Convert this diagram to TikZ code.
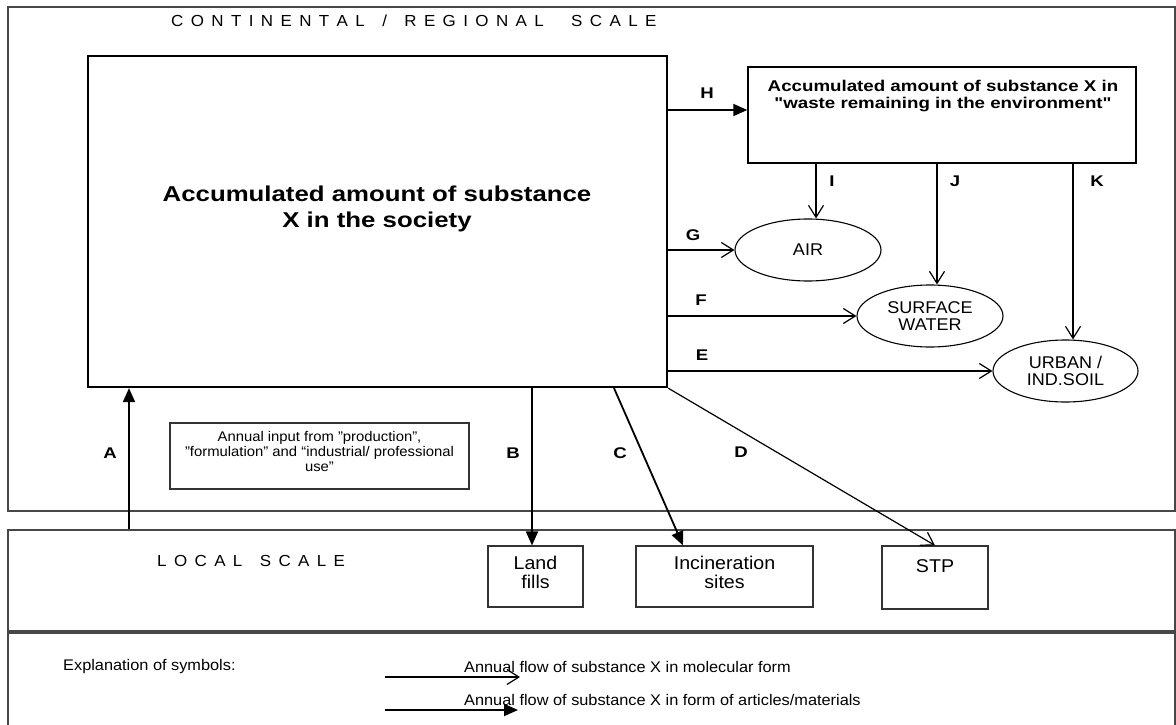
\documentclass[tikz,border=0pt]{standalone}
\usepackage{fontspec}
\setmainfont{Liberation Sans}[FakeStretch=1.06]
\newfontfamily\boldfam{Liberation Sans}[FakeStretch=1.2]
\usetikzlibrary{arrows.meta,shapes.geometric}

\newcommand\fsz[2]{\fontsize{#1}{#2}\selectfont}
% letter-spaced caps; '*' stands for a word gap
\newcommand\spaced[1]{\spacedloop#1\relax}
\def\spacedloop#1{\ifx#1\relax\else\ifx#1*\hspace{10pt}\else#1\hspace{7.4pt}\fi\expandafter\spacedloop\fi}

\begin{document}
\begin{tikzpicture}[x=1pt,y=-1pt,
  frame/.style={draw=black!72, line width=1.2pt, inner sep=0pt},
  mainbox/.style={draw, line width=2.2pt, inner sep=0pt},
  wastebox/.style={draw, line width=1.4pt, inner sep=0pt},
  sitebox/.style={draw=black!80, line width=1.1pt, inner sep=0pt},
  env/.style={ellipse, draw, line width=1.1pt, inner sep=0pt,
              minimum width=146pt, minimum height=62pt, align=center,
              font=\fsz{17}{17.7}},
  txt/.style={inner sep=0pt, align=center},
  lbl/.style={inner sep=0pt, font=\boldfam\bfseries\fsz{15.5}{17}},
  mol/.style={-{Straight Barb[length=12pt,width=15pt]}, line width=1.2pt},
  mat/.style={-{Triangle[length=14pt,width=12pt]}, line width=1.8pt}]
\useasboundingbox (0,0) rectangle (1176,725);
\fill[white] (0,0) rectangle (1176,725);

% scale frames
\node[frame, minimum width=1167pt, minimum height=504pt] (cont) at (591.5,259) {};
\node[frame, minimum width=1167pt, minimum height=101pt] (local) at (591.5,580.5) {};
\node[frame, minimum width=1167pt, minimum height=95pt] (expl) at (591.5,680.5) {};

\node[inner sep=0pt, anchor=west, font=\fsz{16}{18}] (conttitle) at (171,21)
  {\spaced{CONTINENTAL*/*REGIONAL**SCALE}};
\node[inner sep=0pt, anchor=west, font=\fsz{16}{18}] (localtitle) at (157,561)
  {\spaced{LOCAL*SCALE}};

% stocks
\node[mainbox, minimum width=579pt, minimum height=331pt] (soc) at (377.5,221.5) {};
\node[txt, font=\boldfam\bfseries\fsz{21.5}{25.7}] (soctext) at (377,209)
  {Accumulated amount of substance\\X in the society};

\node[wastebox, minimum width=388pt, minimum height=96pt] (waste) at (942,115) {};
\node[txt, font=\boldfam\bfseries\fsz{15.6}{17}] (wastetext) at (943,96.5)
  {Accumulated amount of substance X in\\"waste remaining in the environment"};

\node[sitebox, minimum width=299pt, minimum height=66pt] (annual) at (319.5,456) {};
\node[txt, font=\fsz{14}{15}] (annualtext) at (319.5,451)
  {Annual input from "production",\\"formulation" and “industrial/ professional\\use"};

% environmental compartments
\node[env] (air) at (808,250) {AIR};
\node[env] (sw) at (930,316) {SURFACE\\WATER};
\node[env, minimum width=145pt] (urban) at (1065.5,371) {URBAN /\\IND.SOIL};

% local sites
\node[sitebox, minimum width=95pt, minimum height=61pt] (land) at (535.5,576.5) {};
\node[txt, font=\fsz{18.5}{19}] (landtext) at (535.5,572) {Land\\fills};
\node[sitebox, minimum width=177pt, minimum height=61pt] (inc) at (724.5,576.5) {};
\node[txt, font=\fsz{18.5}{19}] (inctext) at (724.5,572) {Incineration\\sites};
\node[sitebox, minimum width=106pt, minimum height=63pt] (stp) at (935,577.5) {};
\node[txt, font=\fsz{18.5}{19}] (stptext) at (935,566) {STP};

% flow positions
\coordinate (xA) at (129,0);
\coordinate (xB) at (532,0);
\coordinate (xC1) at (614,0);
\coordinate (xC2) at (683,0);
\coordinate (yH) at (0,110);
\coordinate (xI) at (816,0);
\coordinate (xJ) at (937,0);
\coordinate (xK) at (1073,0);

% flows of articles / materials
\draw[mat] (local.north -| xA) -- (soc.south -| xA);
\draw[mat] (soc.south -| xB) -- (land.north -| xB);
\draw[mat] (soc.south -| xC1) -- (inc.north -| xC2);
\draw[mat] (soc.east |- yH) -- (waste.west |- yH);

% flows in molecular form
\draw[mol] (soc.south east) -- (stp.north);
\draw[mol] (soc.east |- urban.west) -- (urban.west);
\draw[mol] (soc.east |- sw.west) -- (sw.west);
\draw[mol] (soc.east |- air.west) -- (air.west);
\draw[mol] (waste.south -| xI) -- (air.north -| xI);
\draw[mol] (waste.south -| xJ) -- (sw.north -| xJ);
\draw[mol] (waste.south -| xK) -- (urban.north -| xK);

% flow labels
\node[lbl] (lA) at (110,453) {A};
\node[lbl] (lB) at (513,453) {B};
\node[lbl] (lC) at (620,453) {C};
\node[lbl] (lD) at (741,452) {D};
\node[lbl] (lE) at (702,355) {E};
\node[lbl] (lF) at (701,300) {F};
\node[lbl] (lG) at (693,235) {G};
\node[lbl] (lH) at (707,93) {H};
\node[lbl] (lI) at (832,181) {I};
\node[lbl] (lJ) at (955,181) {J};
\node[lbl] (lK) at (1097,181) {K};

% legend
\node[inner sep=0pt, anchor=west, font=\fsz{15.4}{17}] (explain) at (63,667) {Explanation of symbols:};
\coordinate (m1) at (385,677);
\coordinate (m2) at (520,677);
\coordinate (a1) at (385,710);
\coordinate (a2) at (518,710);
\draw[mol] (m1) -- (m2);
\draw[mat] (a1) -- (a2);
\node[inner sep=0pt, anchor=west, font=\fsz{15.4}{17}] (molText) at (464,667)
  {Annual flow of substance X in molecular form};
\node[inner sep=0pt, anchor=west, font=\fsz{15.4}{17}] (matText) at (464,700)
  {Annual flow of substance X in form of articles/materials};
\end{tikzpicture}
\end{document}
